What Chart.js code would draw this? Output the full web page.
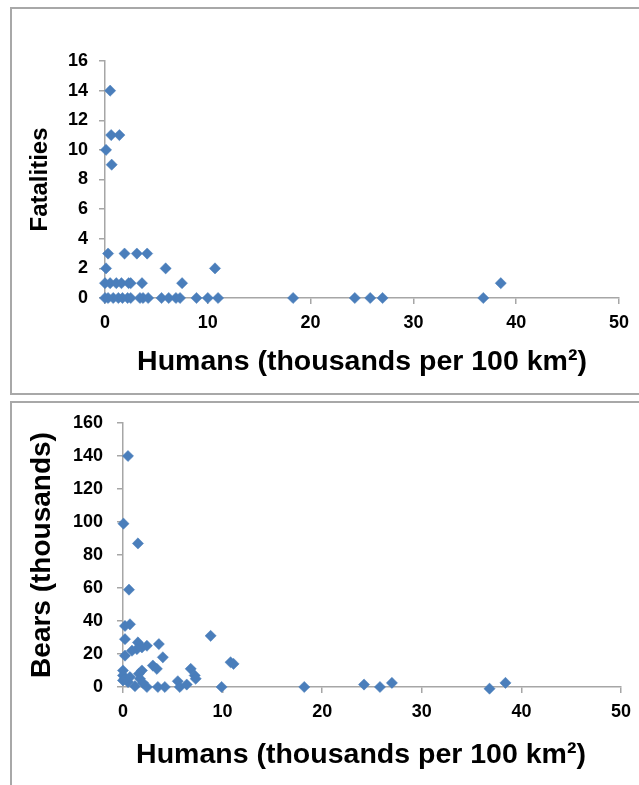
<!DOCTYPE html>
<html>
<head>
<meta charset="utf-8">
<script src="https://cdn.jsdelivr.net/npm/chart.js@4.4.0/dist/chart.umd.min.js"></script>
<style>
  html, body { margin: 0; padding: 0; background: #fff; overflow: hidden; }
  body { width: 639px; height: 785px; position: relative; }
  .panel { position: absolute; left: 10px; width: 640px; border: 2px solid #a8a8a8; box-sizing: border-box; }
  #p1 { top: 7px; height: 388px; }
  #p2 { top: 401px; height: 400px; }
  .wrap { position: absolute; left: 0; width: 639px; }
  #w1 { top: 0; height: 395px; }
  #w2 { top: 395px; height: 390px; }
</style>
</head>
<body>
<div class="panel" id="p1"></div>
<div class="panel" id="p2"></div>
<div class="wrap" id="w1"><canvas id="c1"></canvas></div>
<div class="wrap" id="w2"><canvas id="c2"></canvas></div>
<script>
'use strict';

// ─── Data: top panel (fatalities vs human density) ───────────────────────────
const humansA = [
  0.5, 0.6, 1.4, 0.1, 0.65,
  0.3, 1.9, 3.1, 4.1,
  0.1, 5.9, 10.7,
  0, 0.5, 1.1, 1.6, 2.3, 2.5, 3.6, 7.5, 38.5,
  0, 0.3, 0.8, 1.3, 1.7, 2.2, 2.5, 3.4, 3.7, 4.2, 5.5, 6.2, 6.9, 7.3, 8.9, 10.0, 11.0, 18.3, 24.3, 25.8, 27.0, 36.8
];
const fatalities = [
  14, 11, 11, 10, 9,
  3, 3, 3, 3,
  2, 2, 2,
  1, 1, 1, 1, 1, 1, 1, 1, 1,
  0, 0, 0, 0, 0, 0, 0, 0, 0, 0, 0, 0, 0, 0, 0, 0, 0, 0, 0, 0, 0, 0
];

// ─── Data: bottom panel (bears vs human density) ─────────────────────────────
const humansB = [
  0.5, 0.05, 1.5, 0.6, 0.2, 0.7, 0.2, 8.8, 1.5, 3.6, 2.4, 1.9, 1.4, 0.9, 0.2, 4.0,
  3.0, 3.4, 10.8, 11.1, 6.8, 7.2, 7.3, 0, 1.9, 1.6, 0, 0, 0.5, 0.2, 0.7, 1.7,
  1.2, 2.0, 2.4, 3.5, 4.2, 5.5, 5.7, 6.4, 9.9, 18.2, 24.2, 25.8, 27.0, 36.8, 38.4
];
const bears = [
  140, 99, 87, 59, 37, 38, 29, 31, 27, 26, 25, 24, 23, 22, 19, 18,
  13, 11, 15, 14, 11, 7, 5, 10, 10, 8, 7, 4, 3, 5, 6, 5,
  0.5, 2.5, 0, 0, 0, 3.5, 0, 1.5, 0, 0, 1.5, 0, 2.5, -1, 2.5
];

const xTicksMax = 50, xStep = 10;
const fatalMax = 16, fatalStep = 2;
const bearMax = 160, bearStep = 20;
const xTitle = 'Humans (thousands per 100 km\u00B2)';

// ─── Shared styles ───────────────────────────────────────────────────────────
const FONT = '"Liberation Sans", Arial, sans-serif';
const AXIS = '#a6a6a6';
const BLUE = '#4a7ebb';

const toPts = (xs, ys) => xs.map((x, i) => ({x, y: ys[i]}));

// x-axis title drawn under the axis; shift lets it sit off the axis centre like the original
const xTitlePlugin = {
  id: 'xTitle',
  afterDraw(chart, args, o) {
    const {ctx, chartArea} = chart;
    const sx = chart.scales.x;
    ctx.save();
    ctx.font = `bold ${o.size}px ${FONT}`;
    ctx.fillStyle = '#000';
    ctx.textAlign = 'center';
    ctx.textBaseline = 'middle';
    ctx.fillText(o.text, (chartArea.left + chartArea.right) / 2 + o.shift, sx.bottom - o.fromBottom);
    ctx.restore();
  }
};

const makeChart = (id, xs, ys, opt) => {
  const ctx = document.getElementById(id).getContext('2d');
  return new Chart(ctx, {
    type: 'scatter',
    data: {datasets: [{data: toPts(xs, ys), pointStyle: 'rectRot', pointRadius: 5.6, pointHoverRadius: 5.6,
      backgroundColor: BLUE, borderColor: BLUE, borderWidth: 0.5, clip: false}]},
    plugins: [xTitlePlugin],
    options: {
      responsive: true, maintainAspectRatio: false, animation: false,
      layout: {padding: opt.pad},
      plugins: {legend: {display: false}, tooltip: {enabled: false},
        xTitle: {text: xTitle, size: 28.5, shift: opt.xTitleShift, fromBottom: opt.xTitleFromBottom}},
      scales: {
        x: {
          type: 'linear', min: 0, max: xTicksMax,
          afterFit: s => { s.height = opt.xH; },
          border: {display: true, color: AXIS, width: 1.5},
          grid: {drawOnChartArea: false, drawTicks: true, tickLength: 6, color: AXIS, lineWidth: 1.5},
          ticks: {stepSize: xStep, color: '#000', padding: 8, font: {family: FONT, size: 18, weight: 'bold'}}
        },
        y: {
          type: 'linear', min: 0, max: opt.yMax,
          afterFit: s => { s.width = opt.yW; },
          border: {display: true, color: AXIS, width: 1.5},
          grid: {drawOnChartArea: false, drawTicks: true, tickLength: 6, color: AXIS, lineWidth: 1.5},
          ticks: {stepSize: opt.yStep, color: '#000', padding: opt.yTickPad, font: {family: FONT, size: 18, weight: 'bold'}},
          title: {display: true, text: opt.yTitle, color: '#000', padding: {top: opt.yTitlePad, bottom: 0},
            font: {family: FONT, size: opt.yTitleSize, weight: 'bold'}}
        }
      }
    }
  });
};

makeChart('c1', humansA, fatalities, {
  pad: {left: 0, top: 61, right: 20, bottom: 0},
  xH: 97, yW: 105, yMax: fatalMax, yStep: fatalStep,
  yTitle: 'Fatalities', yTitleSize: 24, yTitlePad: 26, yTickPad: 11,
  xTitleShift: 0, xTitleFromBottom: 33
});

makeChart('c2', humansB, bears, {
  pad: {left: 0, top: 28, right: 17, bottom: 0},
  xH: 98, yW: 123, yMax: bearMax, yStep: bearStep,
  yTitle: 'Bears (thousands)', yTitleSize: 28, yTitlePad: 25, yTickPad: 14,
  xTitleShift: -11, xTitleFromBottom: 30
});
</script>
</body>
</html>
